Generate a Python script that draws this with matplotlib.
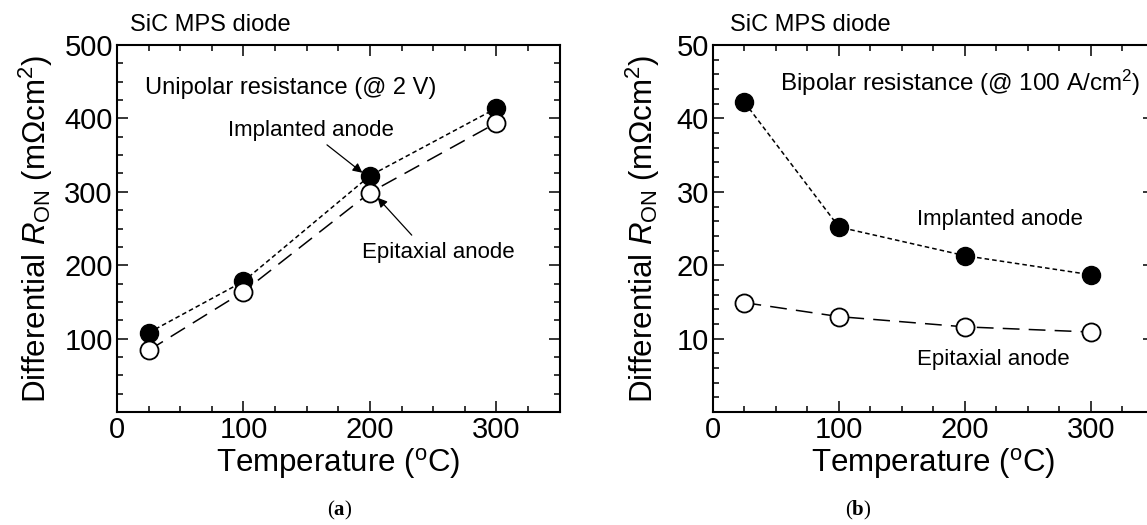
import matplotlib
matplotlib.use('Agg')
import matplotlib.pyplot as plt
from matplotlib.ticker import MultipleLocator

# Temperature points (deg C)
temps = [25, 100, 200, 300]

# (a) unipolar resistance @ 2 V (mOhm cm^2)
uni_implanted = [108, 178, 322, 414]
uni_epitaxial = [84, 164, 299, 394]

# (b) bipolar resistance @ 100 A/cm^2 (mOhm cm^2)
bi_implanted = [42.2, 25.2, 21.3, 18.7]
bi_epitaxial = [14.9, 13.0, 11.6, 10.9]

plt.rcParams['font.family'] = 'Liberation Sans'
plt.rcParams['mathtext.fontset'] = 'custom'
plt.rcParams['mathtext.rm'] = 'Liberation Sans'
plt.rcParams['mathtext.it'] = 'Liberation Sans:italic'
plt.rcParams['mathtext.bf'] = 'Liberation Serif:bold'

fig = plt.figure(figsize=(11.47, 5.25), dpi=100)
ax1 = fig.add_axes([0.102, 0.2152, 0.386, 0.699])
ax2 = fig.add_axes([0.6216, 0.2152, 0.3845, 0.699])

tick_fs = 21
label_fs = 22.5
note_fs = 17
name_fs = 16


def style_axes(ax, ymax, ymajor, yminor, ylabel_x):
    ax.set_xlim(0, 350)
    ax.set_ylim(0, ymax)
    ax.set_xticks([0, 100, 200, 300])
    ax.xaxis.set_minor_locator(MultipleLocator(25))
    ax.set_yticks([ymajor * i for i in range(1, 6)])
    ax.yaxis.set_minor_locator(MultipleLocator(yminor))
    ax.tick_params(which='both', direction='in', top=True, right=True,
                   width=1.1, labelsize=tick_fs)
    ax.tick_params(which='major', length=8, pad=3)
    ax.tick_params(which='minor', length=4.3)
    for s in ax.spines.values():
        s.set_linewidth(1.5)
    ax.set_xlabel('Temperature ($^{\\mathrm{o}}$C)', fontsize=label_fs, labelpad=1)
    ax.set_ylabel('Differential $R_{\\mathrm{ON}}$ (m\u03a9cm$^{2}$)', fontsize=label_fs)
    ax.yaxis.set_label_coords(ylabel_x, 0.5)


def draw_series(ax, imp, epi):
    ax.plot(temps, imp, color='black', lw=1.1, dashes=(3, 2),
            marker='o', ms=13, mfc='black', mec='black', zorder=3)
    ax.plot(temps, epi, color='black', lw=1.1, dashes=(11, 6),
            marker='o', ms=13, mfc='white', mec='black', mew=1.3, zorder=3)


arrow = dict(arrowstyle='-|>', color='black', lw=0.9,
             shrinkA=0, shrinkB=0, mutation_scale=14)

# (a)
draw_series(ax1, uni_implanted, uni_epitaxial)
style_axes(ax1, 500, 100, 25, -0.14)
ax1.text(10, 527, 'SiC MPS diode', fontsize=note_fs, va='center', clip_on=False)
ax1.text(22, 441, 'Unipolar resistance (@ 2 V)', fontsize=note_fs, va='center')
ax1.text(153, 383, 'Implanted anode', fontsize=name_fs, ha='center', va='center')
ax1.annotate('', xy=(194, 326), xytext=(166, 364), arrowprops=arrow)
ax1.text(194, 218, 'Epitaxial anode', fontsize=name_fs, ha='left', va='center')
ax1.annotate('', xy=(206, 292), xytext=(233, 241), arrowprops=arrow)

# (b)
draw_series(ax2, bi_implanted, bi_epitaxial)
style_axes(ax2, 50, 10, 2, -0.115)
ax2.text(13.5, 52.7, 'SiC MPS diode', fontsize=note_fs, va='center', clip_on=False)
ax2.text(53, 44.8, 'Bipolar resistance (@ 100 A/cm$^{2}$)', fontsize=17.5, va='center')
ax2.text(162, 26.2, 'Implanted anode', fontsize=name_fs, va='center')
ax2.text(162, 7.2, 'Epitaxial anode', fontsize=name_fs, va='center')

fig.text(0.296, 0.028, '($\\mathbf{a}$)', fontsize=15, family='Liberation Serif',
         ha='center', va='center')
fig.text(0.748, 0.028, '($\\mathbf{b}$)', fontsize=15, family='Liberation Serif',
         ha='center', va='center')

fig.savefig('out.png', dpi=100)
